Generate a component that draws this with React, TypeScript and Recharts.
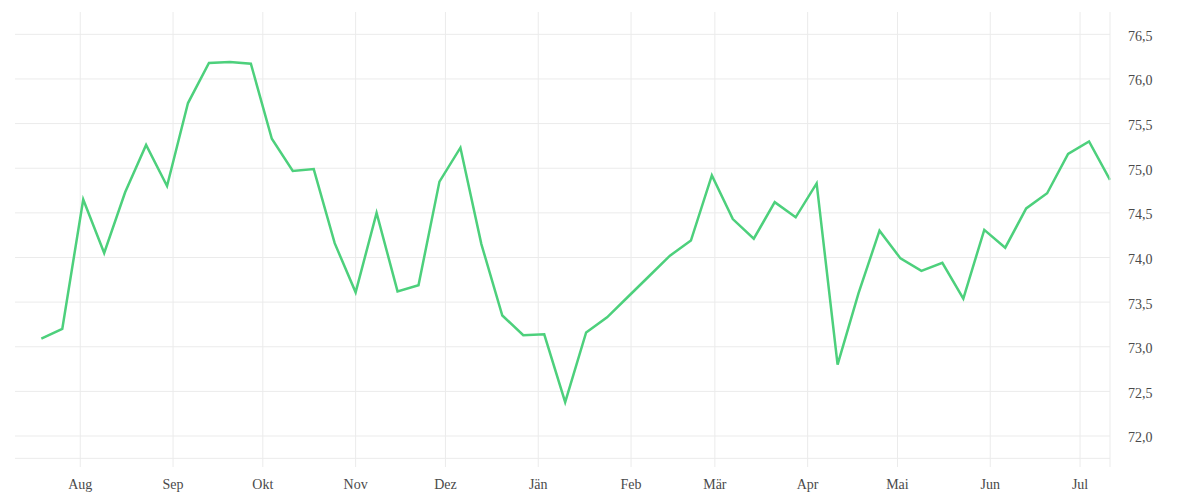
import React from 'react';
import { LineChart, Line, XAxis, YAxis, ReferenceLine } from 'recharts';

const weekDates: string[] = [
  '2021-07-19', '2021-07-26', '2021-08-02', '2021-08-09', '2021-08-16', '2021-08-23', '2021-08-30',
  '2021-09-06', '2021-09-13', '2021-09-20', '2021-09-27', '2021-10-04', '2021-10-11', '2021-10-18',
  '2021-10-25', '2021-11-01', '2021-11-08', '2021-11-15', '2021-11-22', '2021-11-29', '2021-12-06',
  '2021-12-13', '2021-12-20', '2021-12-27', '2022-01-03', '2022-01-10', '2022-01-17', '2022-01-24',
  '2022-01-31', '2022-02-07', '2022-02-14', '2022-02-21', '2022-02-28', '2022-03-07', '2022-03-14',
  '2022-03-21', '2022-03-28', '2022-04-04', '2022-04-11', '2022-04-18', '2022-04-25', '2022-05-02',
  '2022-05-09', '2022-05-16', '2022-05-23', '2022-05-30', '2022-06-06', '2022-06-13', '2022-06-20',
  '2022-06-27', '2022-07-04', '2022-07-11',
];

const values: number[] = [
  73.09, 73.2, 74.65, 74.05, 74.73, 75.26, 74.8, 75.73, 76.18, 76.19, 76.17, 75.33, 74.97,
  74.99, 74.16, 73.61, 74.5, 73.62, 73.69, 74.85, 75.23, 74.15, 73.35, 73.13, 73.14, 72.38,
  73.16, 73.33, 73.56, 73.79, 74.02, 74.19, 74.92, 74.43, 74.21, 74.62, 74.45, 74.83, 72.8,
  73.6, 74.3, 73.99, 73.85, 73.94, 73.54, 74.31, 74.11, 74.55, 74.72, 75.16, 75.3, 74.87,
];

const monthTickDates: string[] = [
  '2021-08-01', '2021-09-01', '2021-10-01', '2021-11-01', '2021-12-01', '2022-01-01',
  '2022-02-01', '2022-03-01', '2022-04-01', '2022-05-01', '2022-06-01', '2022-07-01',
];

const monthNames: string[] = ['Jän', 'Feb', 'Mär', 'Apr', 'Mai', 'Jun', 'Jul', 'Aug', 'Sep', 'Okt', 'Nov', 'Dez'];

const yTicks: number[] = [72, 72.5, 73, 73.5, 74, 74.5, 75, 75.5, 76, 76.5];
const yBaseLine = 71.75;

const data = weekDates.map((d, i) => ({ t: Date.parse(d), v: values[i] }));
const xTicks = monthTickDates.map((d) => Date.parse(d));

const GRID = '#ebebeb';
const TEXT = '#4a4a4a';
const FONT = '"Liberation Serif", "DejaVu Serif", serif';

export default function App() {
  return (
    <LineChart
      width={1184}
      height={484}
      data={data}
      margin={{ top: 4, right: 22, bottom: 0, left: 7 }}
    >
      <XAxis
        dataKey="t"
        type="number"
        scale="time"
        domain={[Date.UTC(2021, 6, 10, 5), Date.UTC(2022, 6, 11)]}
        ticks={xTicks}
        tickFormatter={(t: number) => monthNames[new Date(t).getUTCMonth()]}
        axisLine={false}
        tickLine={false}
        tickSize={0}
        tickMargin={12}
        height={25}
        interval={0}
        tick={{ fontSize: 14, fill: TEXT, fontFamily: FONT }}
      />
      <YAxis
        orientation="right"
        type="number"
        domain={[71.653, 76.75]}
        ticks={yTicks}
        allowDataOverflow
        tickFormatter={(v: number) => v.toFixed(1).replace('.', ',')}
        axisLine={{ stroke: GRID }}
        tickLine={false}
        tickSize={0}
        tickMargin={18}
        width={60}
        interval={0}
        tick={{ fontSize: 14, fill: TEXT, fontFamily: FONT, dy: 1.5 }}
      />
      {yTicks.map((y) => (
        <ReferenceLine key={'h' + y} y={y} stroke={GRID} strokeWidth={1} />
      ))}
      <ReferenceLine y={yBaseLine} stroke={GRID} strokeWidth={1} />
      {xTicks.map((x) => (
        <ReferenceLine key={'v' + x} x={x} stroke={GRID} strokeWidth={1} />
      ))}
      <Line
        type="linear"
        dataKey="v"
        stroke="#4dd07c"
        strokeWidth={2.5}
        dot={false}
        activeDot={false}
        isAnimationActive={false}
      />
    </LineChart>
  );
}
